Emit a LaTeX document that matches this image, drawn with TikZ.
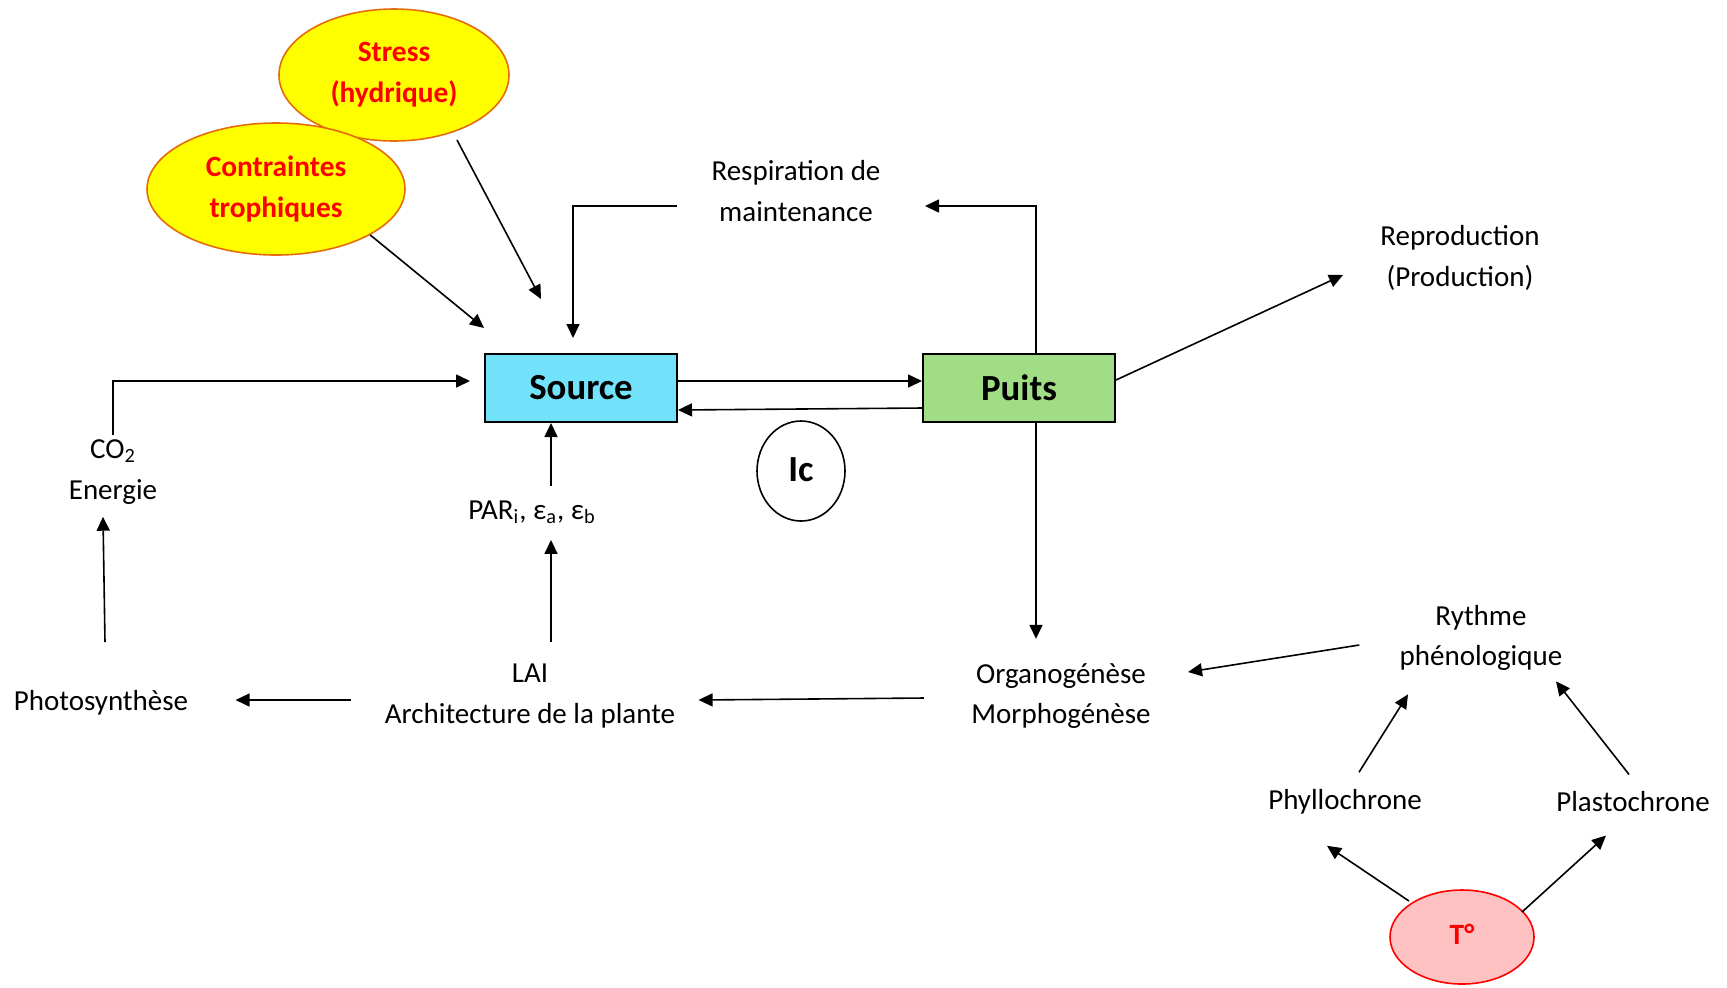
\documentclass[tikz,border=0pt]{standalone}
\usepackage{fontspec}
\setmainfont{Carlito}
\definecolor{StressYellow}{HTML}{FFFF00}
\definecolor{StressBorder}{HTML}{E46C0A}
\definecolor{StressRed}{HTML}{FF0000}
\definecolor{SourceBlue}{HTML}{72E1FA}
\definecolor{PuitsGreen}{HTML}{A0DD85}
\definecolor{TempPink}{HTML}{FFC2C2}
\usetikzlibrary{shapes.geometric, arrows.meta, positioning, calc}
\tikzset{
    % plain text labels
    label text/.style={
        align=center,
        inner sep=2pt,
        font=\fontsize{14.5}{20.4}\selectfont
    },
    % factor ellipses
    factor/.style={
        ellipse,
        draw=StressBorder,
        fill=StressYellow,
        line width=0.8pt,
        align=center,
        text=StressRed,
        font=\fontsize{14.7}{20.4}\selectfont\bfseries
    },
    % Source / Puits boxes
    organ box/.style={
        rectangle,
        draw=black,
        line width=1pt,
        minimum width=96pt,
        minimum height=34pt,
        font=\fontsize{18.4}{22}\selectfont\bfseries
    },
    arrow style/.style={
        -{Triangle[length=7pt, width=6.5pt]},
        line width=0.8pt,
        black
    }
}
\begin{document}
\begin{tikzpicture}[x=0.5pt, y=-0.5pt]
        \useasboundingbox (0,0) rectangle (1727,987);

        % Factor ellipses
        \node[factor, minimum width=115pt, minimum height=66pt] (stress) at (394,75) {\raisebox{-1.5pt}{Stress}\\\raisebox{-1.5pt}{(hydrique)}};
        \node[factor, minimum width=129pt, minimum height=66pt] (contraintes) at (276,189) {\raisebox{-1pt}{Contraintes}\\\raisebox{-1pt}{trophiques}};

        % Source and Puits
        \node[organ box, fill=SourceBlue] (source) at (581,388) {Source};
        \node[organ box, fill=PuitsGreen] (puits) at (1019,388) {Puits};

        % Ic
        \node[ellipse, draw, line width=0.8pt, minimum width=44pt, minimum height=50pt,
              font=\fontsize{18.4}{22}\selectfont\bfseries] (ic) at (801,471) {\raisebox{1.5pt}{Ic}};

        % Text nodes
        \node[label text] (respiration) at (796,191) {Respiration de\\maintenance};
        \node[label text] (repro) at (1460,258) {Reproduction\\(Production)};
        \node[label text] (co2) at (113,472) {CO\textsubscript{2}\\Energie};
        \node[label text] (par) at (532,512) {PAR\textsubscript{i}, ε\textsubscript{a}, ε\textsubscript{b}};
        \node[label text] (lai) at (530,696) {LAI\\Architecture de la plante};
        \node[label text] (photo) at (101,703) {Photosynthèse};
        \node[label text] (orga) at (1061,696) {Organogénèse\\Morphogénèse};
        \node[label text] (rythme) at (1481,638) {Rythme\\phénologique};
        \node[label text] (phyllo) at (1345,802) {Phyllochrone};
        \node[label text] (plasto) at (1633,802) {Plastochrone};

        % T°
        \node[ellipse, draw=StressRed, fill=TempPink, line width=0.8pt, minimum width=72pt, minimum height=47pt,
              text=StressRed, font=\fontsize{14.7}{20.4}\selectfont\bfseries] (tempe) at (1462,937) {\raisebox{2.5pt}{T°}};

        % Arrows into Source
        \draw[arrow style] (contraintes.-26) -- ($(source.north west)+(0,-25)$);
        \draw[arrow style] ($(stress.center)+(63,65)$) -- ($(source.north)+(-40,-54)$);
        \draw[arrow style] ($(respiration.center)+(-119,15)$) -| ($(source.north)+(-8,-15)$);
        \draw[arrow style] (co2.north) |- ($(source.west)+(-14,-7)$);
        \draw[arrow style] ($(par.north)+(19,-10)$) -- ($(source.south)+(-30,0)$);

        % Source <-> Puits
        \draw[arrow style] ($(source.east)+(0,-7)$) -- ($(puits.west)+(0,-7)$);
        \draw[arrow style] ($(puits.west)+(0,20)$) -- ($(source.east)+(0,22)$);

        % Arrows out of Puits
        \draw[arrow style] ($(puits.north)+(17,0)$) |- ($(respiration.center)+(129,15)$);
        \draw[arrow style] ($(puits.east)+(0,-8)$) -- ($(repro.west)+(-33,17)$);
        \draw[arrow style] ($(puits.south)+(17,0)$) -- ($(orga.north)+(-25,-20)$);

        % Lower chain
        \draw[arrow style] ($(lai.north)+(21,-18)$) -- ($(par.south)+(19,12)$);
        \draw[arrow style] ($(photo.north)+(4,-44)$) -- ($(co2.south)+(-10,8)$);
        \draw[arrow style] ($(lai.west)+(-29,4)$) -- ($(photo.east)+(43,-3)$);
        \draw[arrow style] ($(orga.west)+(-43,2)$) -- ($(lai.east)+(19,4)$);
        \draw[arrow style] ($(rythme.west)+(-36,7)$) -- ($(orga.east)+(33,-24)$);

        % Temperature effects
        \draw[arrow style] ($(phyllo.north)+(14,-13)$) -- ($(rythme.south)+(-73,19)$);
        \draw[arrow style] ($(plasto.north)+(-4,-13)$) -- ($(rythme.south)+(75,6)$);
        \draw[arrow style] ($(tempe.center)+(-53,-36)$) -- ($(phyllo.south)+(-18,27)$);
        \draw[arrow style] ($(tempe.center)+(60,-25)$) -- ($(plasto.south)+(-27,19)$);
    \end{tikzpicture}
\end{document}
